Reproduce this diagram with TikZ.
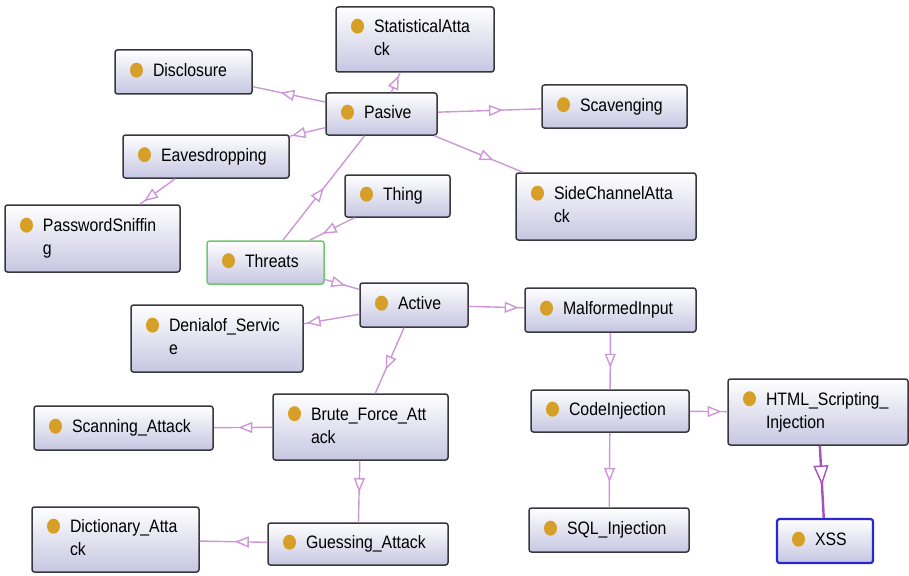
\documentclass[tikz,border=0pt]{standalone}
\usepackage{fontspec}
\setmainfont{Liberation Sans}[FakeStretch=0.88]
\usetikzlibrary{arrows.meta,decorations.markings}

\definecolor{dotgold}{RGB}{214,160,40}
\definecolor{boxline}{RGB}{55,55,62}
\definecolor{boxlow}{RGB}{198,198,226}
\definecolor{edgeviolet}{RGB}{205,150,215}
\definecolor{xssviolet}{RGB}{170,80,190}
\definecolor{threatgreen}{RGB}{110,200,110}
\definecolor{xssblue}{RGB}{40,40,205}

% class label: gold dot then the name
\newcommand{\owlclass}[1]{\hspace*{15pt}\tikz[baseline=-6.4pt]\fill[dotgold] (0,0) ellipse (6.5pt and 7.5pt);\hspace{10pt}\begin{tabular}[t]{@{}l@{}}#1\end{tabular}}

\begin{document}
\begin{tikzpicture}[
  x=1pt, y=-1pt,
  %  Styles for the class boxes
  cls/.style 2 args={rectangle, rounded corners=2.5pt, draw=boxline, line width=1.5pt,
    top color=white, bottom color=boxlow, inner xsep=0pt, inner ysep=0pt,
    text width=#1pt, minimum height=#2pt, align=left,
    font=\fontsize{18}{23}\selectfont},
  %  Style for the is-a links
  isa/.style={draw=edgeviolet, line width=1.4pt, postaction={decorate},
    decoration={markings, mark=at position #1 with
      {\arrow{Triangle[fill=white, length=14pt, width=11pt]}}}},
  isabig/.style={draw=xssviolet, line width=2.4pt, postaction={decorate},
    decoration={markings, mark=at position #1 with
      {\arrow[line width=1.4pt]{Triangle[fill=white, length=20pt, width=15pt]}}}}
]
\useasboundingbox (0,0) rectangle (909,575);

%  Top part
\node[cls={158}{65}] (statattack) at (415,39.5) {\owlclass{StatisticalAtta\\ck}};
\node[cls={137}{44}] (disclosure) at (183.5,72) {\owlclass{Disclosure}};
\node[cls={111}{42}] (pasive) at (381.5,114) {\owlclass{Pasive}};
\node[cls={145}{43}] (scavenging) at (614.5,106.5) {\owlclass{Scavenging}};
\node[cls={166}{43}] (eavesdrop) at (206,156.5) {\owlclass{Eavesdropping}};
\node[cls={105}{42}] (thing) at (397.5,196) {\owlclass{Thing}};
\node[cls={180}{67}] (sidechannel) at (606,206.5) {\owlclass{SideChannelAtta\\ck}};
\node[cls={175}{67}] (pwsniff) at (92.5,238.5) {\owlclass{PasswordSniffin\\g}};
\node[cls={117}{43}, draw=threatgreen] (threats) at (265.5,262.5) {\owlclass{Threats}};

%  Bottom part
\node[cls={172}{67}] (denial) at (217,338.5) {\owlclass{Denialof\_Servic\\e}};
\node[cls={108}{44}] (active) at (414,305) {\owlclass{Active}};
\node[cls={171}{44}] (malformed) at (610.5,310) {\owlclass{MalformedInput}};
\node[cls={175}{66}] (bruteforce) at (360.5,427) {\owlclass{Brute\_Force\_Att\\ack}};
\node[cls={158}{42}] (codeinj) at (610,411) {\owlclass{CodeInjection}};
\node[cls={180}{66}] (htmlinj) at (818,412) {\owlclass{HTML\_Scripting\_\\Injection}};
\node[cls={179}{44}] (scanning) at (123.5,428) {\owlclass{Scanning\_Attack}};
\node[cls={180}{42}] (guessing) at (358,544) {\owlclass{Guessing\_Attack}};
\node[cls={167}{65}] (dictionary) at (115.5,539.5) {\owlclass{Dictionary\_Atta\\ck}};
\node[cls={160}{44}] (sqlinj) at (609,530) {\owlclass{SQL\_Injection}};
\node[cls={96}{44}, draw=xssblue, line width=2.2pt] (xss) at (825,541) {\owlclass{XSS}};

%  Links
\draw[isa=0.86] (pasive) -- (statattack);
\draw[isa=0.62] (pasive) -- (disclosure);
\draw[isa=0.63] (pasive) -- (scavenging);
\draw[isa=0.95] (pasive) -- (eavesdrop);
\draw[isa=0.67] (pasive) -- (sidechannel);
\draw[isa=0.88] (eavesdrop) -- (pwsniff);
\draw[isa=0.71] (thing) -- (threats);
\draw[isa=0.5] (threats) -- (pasive);
\draw[isa=0.6] (threats) -- (active);
\draw[isa=0.95] (active) -- (denial);
\draw[isa=0.9] (active) -- (malformed);
\draw[isa=0.64] (active) -- (bruteforce);
\draw[isa=0.58] (bruteforce) -- (scanning);
\draw[isa=0.51] (bruteforce) -- (guessing);
\draw[isa=0.48] (guessing) -- (dictionary);
\draw[isa=0.62] (malformed) -- (codeinj);
\draw[isa=0.66] (codeinj) -- (sqlinj);
\draw[isa=0.85] (codeinj) -- (htmlinj);
\draw[isabig=0.55] (htmlinj) -- (xss);
\end{tikzpicture}
\end{document}
